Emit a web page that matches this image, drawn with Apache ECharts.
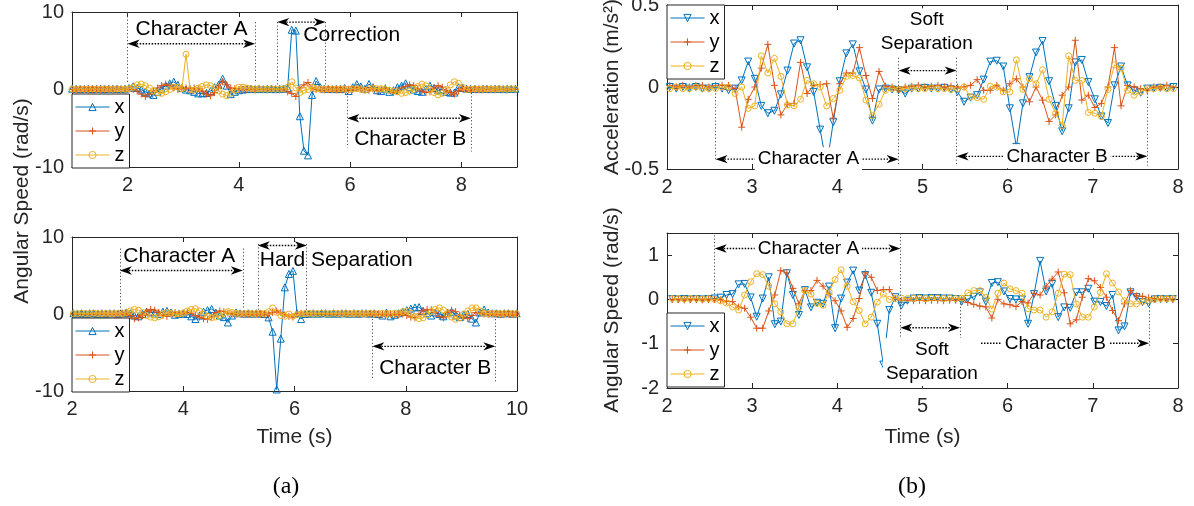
<!DOCTYPE html>
<html>
<head>
<meta charset="utf-8">
<title>Gesture segmentation: angular speed and acceleration</title>
<script src="https://cdn.jsdelivr.net/npm/echarts@6/dist/echarts.min.js"></script>
<style>
  html, body { margin: 0; padding: 0; background: #fff; }
  #chart { width: 1194px; height: 506px; }
</style>
</head>
<body>
<div id="chart"></div>
<script>
// ---- Sampling of each recording (start time in s, sample period in s) ----
const tlStart = 1.003, tlStep = 0.0731;   // (a) top: correction
const blStart = 2.025, blStep = 0.0731;   // (a) bottom: hard separation
const trStart = 2.032, trStep = 0.0768;   // (b) top: acceleration
const brStart = 2.062, brStep = 0.0708;   // (b) bottom: angular speed

// ---- (a) top: angular speed with a correction stroke (rad/s) ----
const tlX = [
  0.1, 0.1, 0.05, 0.1, 0.1, 0.05, 0.1, 0.1, 0.05, 0.1,
  0.1, 0.1, 0.05, 0.1, 0.2, 0.4, 0.2, 0.0, -0.3, -0.5,
  -0.7, -0.3, 0.1, 0.5, 0.8, 1.0, 0.6, 0.2, 0.0, -0.1,
  -0.3, -0.5, -0.5, -0.45, -0.2, 0.3, 0.6, 1.4, 0.5, -0.6,
  -0.3, -0.1, 0.0, 0.05, 0.1, 0.05, 0.1, 0.05, 0.1, 0.1,
  0.05, 0.1, 0.1, 0.2, 7.7, 7.6, -3.45, -7.9, -8.5, -0.7,
  1.1, 0.3, 0.1, 0.1, 0.05, 0.1, 0.05, 0.2, -0.2, 0.3,
  0.7, 0.4, 0.1, 0.7, 0.3, -0.1, -0.2, 0.1, -0.3, -0.1,
  0.3, 0.5, 0.8, 0.3, 0.0, -0.2, -0.3, 0.1, 0.5, 0.2,
  -0.1, 0.0, -0.3, -0.4, -0.4, 0.3, 0.2, 0.1, 0.1, 0.1,
  0.05, 0.1, 0.1, 0.05, 0.1, 0.1, 0.05, 0.1, 0.1, 0.1
];
const tlY = [
  0, -0.05, 0, 0, -0.05, 0, 0, -0.05, 0, 0,
  -0.05, 0, 0, -0.05, 0.1, 0.0, -0.2, -0.6, -0.9, -0.6,
  -0.2, 0.2, 0.5, 0.7, 0.5, 0.2, 0.0, 0.1, 0.2, 0.1,
  0.2, 0.1, -0.2, -0.6, -0.8, -0.4, 0.3, 1.0, 0.6, 0.2,
  0.1, 0, -0.05, 0, 0, -0.05, 0, 0, -0.05, 0,
  0, -0.05, 0, -0.3, -0.5, -0.9, 0.2, 0.6, 0.9, 0.2,
  0.0, 0, -0.05, 0, 0, -0.05, 0, 0, -0.05, 0,
  0.2, 0.1, 0.0, -0.1, 0.1, -0.2, 0.0, 0.2, -0.1, -0.4,
  -0.2, 0.2, 0.4, 0.6, 0.5, 0.1, -0.2, -0.4, -0.3, 0.2,
  0.5, 0.3, -0.2, -0.4, -0.6, -0.2, 0.1, 0, -0.05, 0,
  0, -0.05, 0, 0, -0.05, 0, 0, -0.05, 0, 0
];
const tlZ = [
  0.05, 0.05, 0.1, 0.05, 0.05, 0.1, 0.05, 0.05, 0.1, 0.05,
  0.05, 0.1, 0.05, 0.05, 0.1, 0.3, 0.6, 0.7, 0.5, 0.2,
  -0.2, -0.4, -0.5, -0.3, 0.0, 0.3, 0.3, 0.1, 4.55, 0.0,
  -0.1, 0.2, 0.4, 0.6, 0.5, 0.2, -0.2, -0.6, -0.8, -0.5,
  -0.1, 0.3, 0.3, 0.2, 0.1, 0.05, 0.1, 0.05, 0.05, 0.1,
  0.05, 0.05, 0.1, 0.3, 1.0, 0.2, -0.4, -0.1, 0.0, 0.3,
  0.1, 0.05, 0.05, 0.1, 0.05, 0.05, 0.1, 0.05, 0.05, 0.1,
  0.1, 0.0, -0.1, 0.1, 0.2, 0.1, 0.1, 0.0, -0.1, -0.2,
  -0.3, -0.5, -0.4, -0.2, 0.0, 0.4, 0.7, 0.5, 0.0, -0.4,
  -0.7, -0.5, 0.0, 0.6, 1.0, 0.8, 0.3, 0.0, 0.05, 0.1,
  0.05, 0.05, 0.1, 0.05, 0.05, 0.1, 0.05, 0.05, 0.1, 0.05
];

// ---- (a) bottom: angular speed with a hard separation (rad/s) ----
const blX = [
  0.1, 0.05, 0.1, 0.05, 0.1, 0.1, 0.05, 0.1, 0.05, 0.1,
  0.1, 0.05, 0.1, 0.2, 0.1, -0.2, -0.3, 0.0, 0.3, 0.2,
  0.2, 0.0, 0.3, 0.4, 0.2, -0.1, 0.0, 0.1, 0.0, -0.3,
  -0.65, -0.2, 0.3, 0.5, 0.65, 0.2, -0.2, -0.4, -1.1, -0.2,
  0.2, 0.1, 0.05, 0.1, 0.05, 0.1, 0.05, 0.0, -0.44, -2.3,
  -9.8, -3.2, 3.46, 5.2, 5.6, 0.1, -0.65, 0.0, 0.05, 0.1,
  0.05, 0.1, 0.1, 0.05, 0.1, 0.05, 0.1, 0.1, 0.05, 0.1,
  0.05, 0.1, 0.1, 0.05, 0.1, 0.0, -0.2, 0.2, -0.3, -0.1,
  0.1, 0.3, 0.5, 0.7, 0.86, 0.9, 0.4, 0.1, -0.2, 0.2,
  0.0, -0.3, 0.1, 0.3, -0.2, -0.4, -0.1, 0.0, -0.6, -1.1,
  0.2, 0.6, 0.2, 0.1, 0.1, 0.05, 0.1, 0.1, 0.05, 0.1
];
const blY = [
  0, -0.05, 0, 0, -0.05, 0, 0, -0.05, 0, 0,
  -0.05, 0, 0, 0.0, -0.2, -0.6, -0.5, -0.2, 0.3, 0.6,
  0.5, 0.2, -0.2, -0.3, 0.0, 0.2, 0.1, 0.0, 0.2, 0.1,
  -0.2, -0.4, -0.6, -0.7, -0.3, 0.2, 0.4, 0.3, 0.1, 0,
  -0.05, 0, 0, -0.05, 0, 0, -0.05, 0, 0.0, 0.2,
  0.4, 0.2, -0.1, -0.3, -0.4, 0.0, 0.1, 0, -0.05, 0,
  0, -0.05, 0, 0, -0.05, 0, 0, -0.05, 0, 0,
  -0.05, 0, 0, -0.05, 0, 0, -0.05, 0, 0, -0.05,
  -0.1, 0.0, -0.2, -0.4, -0.5, 0.0, 0.4, 0.6, 0.55, 0.2,
  -0.3, -0.5, 0.2, 0.5, 0.3, -0.2, -0.4, -0.6, -0.2, 0.2,
  0.1, 0, -0.05, 0, 0, -0.05, 0, 0, -0.05, 0
];
const blZ = [
  0.05, 0.05, 0.1, 0.05, 0.05, 0.1, 0.05, 0.05, 0.1, 0.05,
  0.05, 0.1, 0.05, 0.2, 0.4, 0.6, 0.5, 0.2, -0.2, -0.4,
  -0.5, -0.35, 0.0, 0.2, 0.1, 0.0, 0.0, 0.1, 0.4, 0.6,
  0.7, 0.4, 0.0, -0.3, -0.5, -0.4, -0.2, 0.1, 0.3, 0.2,
  0.1, 0.05, 0.05, 0.1, 0.05, 0.05, 0.1, 0.05, 0.3, 0.8,
  0.2, -0.2, -0.3, 0.0, -0.3, -0.1, 0.0, 0.05, 0.1, 0.05,
  0.05, 0.1, 0.05, 0.05, 0.1, 0.05, 0.05, 0.1, 0.05, 0.05,
  0.1, 0.05, 0.05, 0.1, 0.05, 0.05, 0.1, 0.05, 0.05, 0.1,
  0.1, 0.3, 0.4, 0.1, -0.3, -0.6, -0.5, -0.1, 0.3, 0.6,
  0.8, 0.5, 0.0, -0.4, -0.7, -0.5, 0.0, 0.4, 0.8, 0.8,
  0.4, 0.1, 0.05, 0.05, 0.1, 0.05, 0.05, 0.1, 0.05, 0.05
];

// ---- (b) top: acceleration with a soft separation (m/s^2) ----
const trX = [
  0, -0.01, 0, -0.01, 0, -0.01, -0.01, 0, -0.01, -0.02,
  -0.01, 0.04, 0.155, 0.05, -0.115, -0.16, -0.145, -0.045, 0.1, 0.265,
  0.285, 0.12, -0.03, -0.26, -0.48, -0.215, 0.035, 0.205, 0.26, 0.095,
  -0.015, -0.205, -0.015, -0.01, -0.015, -0.02, -0.04, -0.01, -0.01, -0.005,
  -0.01, -0.01, -0.005, -0.015, -0.03, -0.09, -0.065, -0.05, 0.045, 0.155,
  0.16, 0.125, -0.13, -0.365, -0.1, 0.06, 0.21, 0.28, 0.035, -0.115,
  -0.27, -0.13, 0.15, 0.165, 0.03, -0.075, -0.18, -0.22, 0.01, 0.125,
  0.01, -0.02, -0.035, -0.01, -0.01, -0.005, -0.01, 0
];
const trY = [
  0.01, 0, 0.01, 0, 0.01, 0.01, 0, 0.01, 0.01, 0.01,
  -0.01, -0.245, -0.075, 0, 0.115, 0.26, 0.01, -0.17, -0.105, -0.1,
  0.15, -0.04, 0.01, 0.015, 0.02, -0.19, 0.02, 0.085, 0.085, 0.24,
  0.07, -0.07, 0.095, 0.005, 0, -0.01, 0, 0.005, 0.01, 0,
  0.005, 0.01, 0, 0.005, 0, 0, 0.01, 0.045, -0.02, -0.02,
  0.01, -0.02, 0.02, 0.05, 0, -0.09, 0, -0.08, -0.21, -0.17,
  -0.05, 0, 0.285, -0.08, -0.05, -0.125, -0.1, 0, 0.24, -0.115,
  0.01, 0, -0.01, -0.02, 0, 0, 0.01, 0
];
const trZ = [
  -0.01, 0, -0.01, -0.01, 0, -0.01, -0.01, -0.01, 0, 0,
  -0.04, 0, -0.13, -0.115, 0.19, 0.085, 0.175, 0.065, -0.11, -0.115,
  -0.075, 0.04, 0.02, 0, -0.115, -0.07, -0.02, 0.065, 0.07, 0.055,
  -0.08, -0.175, -0.105, -0.02, -0.01, -0.015, -0.01, -0.005, -0.01, -0.01,
  -0.005, -0.01, -0.01, -0.015, -0.01, 0, -0.06, -0.065, -0.075, 0.005,
  0, -0.03, -0.03, 0.165, -0.015, 0.05, 0.02, 0.105, -0.075, -0.16,
  -0.235, 0.19, 0.04, 0.04, -0.155, -0.16, -0.18, -0.015, 0.135, 0.115,
  -0.02, -0.05, -0.03, -0.01, -0.01, -0.005, -0.01, -0.01
];

// ---- (b) bottom: angular speed with a soft separation (rad/s) ----
const brX = [
  0.01, 0, 0.01, 0, 0.01, 0, 0.01, 0.02, 0.04, 0.1,
  0.12, 0.34, 0.35, 0.045, -0.39, 0.02, 0.5, -0.56, -0.5, 0.59,
  0.1, -0.35, 0.21, -0.18, -0.075, -0.1, 0.29, -0.65, 0.02, 0.38,
  0.65, 0.2, 0.55, 0.15, -0.55, -1.47, -0.24, 0.05, -0.14, -0.03,
  0.02, 0.03, 0.02, 0.03, 0.03, 0.02, 0.02, 0.01, -0.05, 0.01,
  0.06, 0.16, -0.05, 0.37, 0.39, 0.18, 0.01, 0, 0, -0.55,
  0.12, 0.87, 0.18, 0.35, -0.4, -0.18, -0.19, 0.16, 0.16, 0.24,
  -0.05, -0.06, -0.15, 0.1, -0.7, -0.61, 0.16, 0.05, -0.06, -0.09,
  0, 0.01, 0, 0.01
];
const brY = [
  0, 0, -0.01, 0, 0, -0.01, 0, 0, -0.01, -0.04,
  -0.05, -0.17, -0.2, -0.4, -0.65, -0.65, -0.26, 0.1, 0.65, 0.6,
  0.25, -0.1, 0.2, 0.2, 0.43, 0.3, 0.12, -0.03, -0.26, -0.63,
  -0.43, 0.02, 0.6, 0.5, 0.2, 0.22, 0.22, 0.02, -0.02, -0.02,
  -0.03, -0.02, -0.03, -0.02, -0.02, -0.03, -0.02, -0.02, 0, -0.07,
  -0.11, -0.15, -0.17, -0.42, 0, -0.1, -0.12, -0.16, -0.05, -0.08,
  0.14, 0.1, 0.3, 0.46, 0.62, 0.15, -0.55, -0.46, 0.05, 0.47,
  0.42, 0.27, 0.05, -0.25, -0.48, -0.1, 0.2, 0.08, 0.07, 0.04,
  0.02, 0.01, 0.02, 0.01
];
const brZ = [
  0.02, 0.02, 0.01, 0.02, 0.02, 0.01, 0.02, 0, -0.03, -0.08,
  -0.17, -0.24, 0.1, 0.4, 0.58, 0.56, 0.3, -0.1, -0.28, -0.55,
  -0.55, -0.18, 0.2, 0.12, -0.09, -0.13, 0.17, 0.45, 0.67, 0.3,
  -0.05, -0.25, -0.55, -0.4, -0.06, 0.12, 0, 0.02, 0.03, 0.02,
  0.03, 0.03, 0.02, 0.03, 0.03, 0.02, 0.03, 0.02, 0.03, 0.15,
  0.2, 0.2, 0.05, -0.22, 0.14, 0.37, 0.24, 0.2, 0.14, -0.21,
  -0.24, -0.24, -0.4, -0.28, 0.14, 0.57, 0.56, -0.1, -0.4, -0.4,
  -0.17, 0.16, 0.58, 0.37, 0.17, -0.03, -0.1, -0.1, -0.05, -0.02,
  0, 0.02, 0.01, 0.02
];

// ---- Axis ticks ----
const aTopTimeTicks = [2, 4, 6, 8];
const aBottomTimeTicks = [2, 4, 6, 8, 10];
const bTimeTicks = [2, 3, 4, 5, 6, 7, 8];
const aSpeedTicks = [-10, 0, 10];
const bAccelTicks = [-0.5, 0, 0.5];
const bSpeedTicks = [-2, -1, 0, 1];

// ---- Segment annotations (data units) ----
// guides: [time, upper value, lower value]; arrows: [from time, to time, value]; notes: [text, time, value]
const tlGuides = [[2.0, 9.9, 0.8], [4.29, 8.7, 0.8], [4.69, 8.7, 0.55], [5.56, 8.7, 0.55], [5.95, 0, -7.5], [8.17, 0, -8.0]];
const tlArrows = [[2.0, 4.29, 5.9], [4.69, 5.56, 8.7], [5.95, 8.17, -3.7]];
const tlNotes = [['Character A', 3.15, 7.8], ['Correction', 6.03, 6.95], ['Character B', 7.08, -6.4]];

const blGuides = [[2.86, 8.5, 0.15], [5.07, 8.5, 0.7], [5.34, 9.1, 0.45], [6.22, 9.1, 0.45], [7.40, -0.2, -8.4], [9.61, -0.65, -8.8]];
const blArrows = [[2.86, 5.07, 5.65], [5.34, 6.22, 8.9], [7.40, 9.61, -4.2]];
const blNotes = [['Character A', 3.93, 7.5], ['Hard Separation', 6.75, 7.0], ['Character B', 8.53, -7.1]];

const trGuides = [[2.57, -0.018, -0.44], [4.72, 0.2, -0.47], [5.40, 0.2, -0.48], [7.64, -0.018, -0.48]];
const trArrows = [[2.57, 4.72, -0.44], [4.72, 5.40, 0.10], [5.40, 7.64, -0.423]];
const trNotes = [['Character A', 3.66, -0.44], ['Soft\nSeparation', 5.05, 0.334], ['Character B', 6.58, -0.423]];

const brGuides = [[2.56, 1.45, 0.02], [4.74, 1.49, -0.92], [5.44, -0.09, -1.31], [7.66, -0.02, -1.07]];
const brArrows = [[2.56, 4.74, 1.15], [4.74, 5.44, -0.64], [5.44, 7.66, -0.99]];
const brNotes = [['Character A', 3.66, 1.15], ['Soft\nSeparation', 5.11, -1.415], ['Character B', 6.56, -0.99]];

// ---- Styling ----
const COLORS = { x: '#0072BD', y: '#D95319', z: '#EDB120' };
const AXIS = '#262626';
const FONT = '"Liberation Sans", Arial, Helvetica, sans-serif';
const SERIF = '"Liberation Serif", "DejaVu Serif", serif';
const PLUS = 'path://M0,5L10,5M5,0L5,10';

const panels = [
  { grid: { left: 72, top: 12, width: 445, height: 155 }, xRange: [1, 9], xTicks: aTopTimeTicks,
    yRange: [-10, 10], yTicks: aSpeedTicks, start: tlStart, step: tlStep, values: [tlX, tlY, tlZ],
    xRotate: 0, legend: { left: 72, top: 94 }, guides: tlGuides, arrows: tlArrows, notes: tlNotes,
    noteSize: 21, noteBg: false },
  { grid: { left: 72, top: 237, width: 445, height: 154 }, xRange: [2, 10], xTicks: aBottomTimeTicks,
    yRange: [-10, 10], yTicks: aSpeedTicks, start: blStart, step: blStep, values: [blX, blY, blZ],
    xRotate: 0, legend: { left: 72, top: 318 }, guides: blGuides, arrows: blArrows, notes: blNotes,
    noteSize: 21, noteBg: false },
  { grid: { left: 667, top: 5, width: 511, height: 164 }, xRange: [2, 8], xTicks: bTimeTicks,
    yRange: [-0.5, 0.5], yTicks: bAccelTicks, start: trStart, step: trStep, values: [trX, trY, trZ],
    xRotate: 180, legend: { left: 667, top: 5 }, guides: trGuides, arrows: trArrows, notes: trNotes,
    noteSize: 19, noteBg: true },
  { grid: { left: 667, top: 233, width: 511, height: 155 }, xRange: [2, 8], xTicks: bTimeTicks,
    yRange: [-2, 1.5], yTicks: bSpeedTicks, start: brStart, step: brStep, values: [brX, brY, brZ],
    xRotate: 180, legend: { left: 667, top: 313 }, guides: brGuides, arrows: brArrows, notes: brNotes,
    noteSize: 19, noteBg: true }
];

function tickStyle(values) {
  return { show: true, inside: true, length: 5, customValues: values, lineStyle: { color: AXIS, width: 1 } };
}

function axisPair(kind, p, gi) {
  const range = kind === 'x' ? p.xRange : p.yRange;
  const ticks = kind === 'x' ? p.xTicks : p.yTicks;
  const base = {
    type: 'value', gridIndex: gi, min: range[0], max: range[1],
    splitLine: { show: false },
    axisLine: { show: true, onZero: false, lineStyle: { color: AXIS, width: 1 } },
    axisTick: tickStyle(ticks)
  };
  const main = Object.assign({}, base, {
    position: kind === 'x' ? 'bottom' : 'left',
    axisLabel: { show: true, customValues: ticks, color: AXIS, fontSize: 20, fontFamily: FONT, margin: 8 }
  });
  const mirror = Object.assign({}, base, {
    position: kind === 'x' ? 'top' : 'right',
    axisLabel: { show: false }
  });
  return [main, mirror];
}

function markerFor(axisName, p) {
  if (axisName === 'x') return { symbol: 'triangle', symbolSize: 7, symbolRotate: p.xRotate };
  if (axisName === 'y') return { symbol: PLUS, symbolSize: 7, symbolRotate: 0 };
  return { symbol: 'circle', symbolSize: 6, symbolRotate: 0 };
}

// Vertical dotted boundary lines of each segment.
function guideLines(p) {
  const guideStyle = { type: [1.2, 2.2], color: '#4d4d4d', width: 1 };
  return {
    silent: true, animation: false, symbol: ['none', 'none'],
    label: { show: false }, emphasis: { disabled: true },
    lineStyle: guideStyle,
    data: p.guides.map(g => [
      { coord: [g[0], g[1]], lineStyle: guideStyle },
      { coord: [g[0], g[2]] }
    ])
  };
}

const xAxes = [], yAxes = [], series = [], legends = [], grids = [];
panels.forEach((p, gi) => {
  grids.push(Object.assign({ outerBoundsMode: 'none', containLabel: false }, p.grid));
  xAxes.push(...axisPair('x', p, gi));
  yAxes.push(...axisPair('y', p, gi));
  ['x', 'y', 'z'].forEach((n, k) => {
    const m = markerFor(n, p);
    const s = {
      type: 'line', name: n + gi, xAxisIndex: 2 * gi, yAxisIndex: 2 * gi,
      data: p.values[k].map((v, i) => [p.start + i * p.step, v]),
      symbol: m.symbol, symbolSize: m.symbolSize, symbolRotate: m.symbolRotate,
      showSymbol: true, clip: true, animation: false, z: 2 + k,
      lineStyle: { color: COLORS[n], width: 1 },
      itemStyle: { color: 'transparent', borderColor: COLORS[n], borderWidth: 1 },
      emphasis: { disabled: true }
    };
    if (n === 'z') s.markLine = guideLines(p);
    series.push(s);
  });
  legends.push({
    data: ['x', 'y', 'z'].map(n => n + gi),
    formatter: name => name.charAt(0),
    orient: 'vertical', left: p.legend.left, top: p.legend.top,
    itemWidth: 34, itemHeight: 9, itemGap: 4,
    padding: [3, 5, 3, 3],
    backgroundColor: '#fff', borderColor: AXIS, borderWidth: 1, borderRadius: 0,
    itemStyle: { borderWidth: 1 }, lineStyle: { width: 1 },
    textStyle: { fontSize: 20, lineHeight: 20, fontFamily: FONT, color: '#000' },
    selectedMode: false, z: 10
  });
});

const chart = echarts.init(document.getElementById('chart'), null, { renderer: 'canvas' });
chart.setOption({
  animation: false,
  backgroundColor: '#fff',
  textStyle: { fontFamily: FONT },
  grid: grids,
  xAxis: xAxes,
  yAxis: yAxes,
  legend: legends,
  series: series
});

// Double-headed dotted arrows and notes, placed in data units of each panel.
const overlay = [];
const HEAD_LEN = 12, HEAD_HALF = 4.2, HEAD_NOTCH = 3.5;

function arrowHead(tipX, y, dir) {
  // dir = +1 points right, -1 points left
  const back = tipX - dir * HEAD_LEN;
  const notch = tipX - dir * (HEAD_LEN - HEAD_NOTCH);
  return {
    type: 'polygon', z: 90, silent: true,
    shape: { points: [[tipX, y], [back, y - HEAD_HALF], [notch, y], [back, y + HEAD_HALF]] },
    style: { fill: '#000', stroke: null }
  };
}

panels.forEach((p, gi) => {
  const finder = { xAxisIndex: 2 * gi, yAxisIndex: 2 * gi };
  p.arrows.forEach(([t1, t2, v]) => {
    const a = chart.convertToPixel(finder, [t1, v]);
    const b = chart.convertToPixel(finder, [t2, v]);
    overlay.push({
      type: 'line', z: 89, silent: true,
      shape: { x1: a[0] + HEAD_LEN - 3, y1: a[1], x2: b[0] - HEAD_LEN + 3, y2: b[1] },
      style: { stroke: '#000', lineWidth: 1.4, lineDash: [1.5, 1.5] }
    });
    overlay.push(arrowHead(a[0], a[1], -1));
    overlay.push(arrowHead(b[0], b[1], 1));
  });
  p.notes.forEach(([text, t, v]) => {
    const pt = chart.convertToPixel(finder, [t, v]);
    const style = {
      text: text, fill: '#000', font: p.noteSize + 'px ' + FONT,
      align: 'center', verticalAlign: 'middle', textAlign: 'center', textVerticalAlign: 'middle',
      lineHeight: 24
    };
    if (p.noteBg) { style.backgroundColor = '#fff'; style.padding = [0, 3]; }
    overlay.push({ type: 'text', x: pt[0], y: pt[1], z: 100, silent: true, style: style });
  });
});

function title(text, x, y, opts) {
  const o = opts || {};
  return {
    type: 'text', x: x, y: y, z: 100, silent: true, rotation: o.rotate || 0,
    style: {
      text: text, fill: o.color || AXIS, font: (o.size || 21) + 'px ' + (o.family || FONT),
      align: 'center', verticalAlign: 'middle', textAlign: 'center', textVerticalAlign: 'middle'
    }
  };
}
overlay.push(title('Angular Speed (rad/s)', 22, 201, { rotate: Math.PI / 2 }));
overlay.push(title('Acceleration (m/s²)', 612, 87, { rotate: Math.PI / 2 }));
overlay.push(title('Angular Speed (rad/s)', 612, 310, { rotate: Math.PI / 2 }));
overlay.push(title('Time (s)', 294.5, 437));
overlay.push(title('Time (s)', 922.5, 437));
overlay.push(title('(a)', 286, 487, { size: 24, family: SERIF, color: '#000' }));
overlay.push(title('(b)', 912, 487, { size: 24, family: SERIF, color: '#000' }));

chart.setOption({ graphic: { elements: overlay } });
</script>
</body>
</html>
